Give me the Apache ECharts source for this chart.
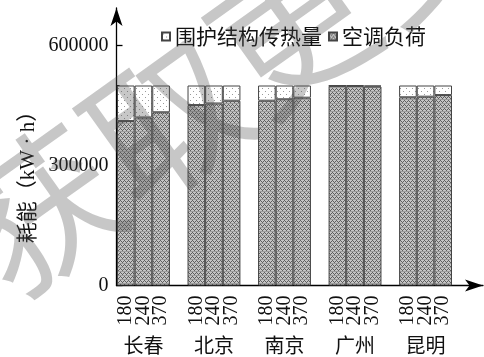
<!DOCTYPE html>
<html>
<head>
<meta charset="utf-8">
<script src="https://cdn.jsdelivr.net/npm/echarts@6/dist/echarts.min.js"></script>
<style>
html,body{margin:0;padding:0;background:#fff;}
#chart{width:484px;height:357px;}
</style>
</head>
<body>
<div id="chart"></div>
<script>
// Cities and wall thicknesses (mm)
const cities = ['长春', '北京', '南京', '广州', '昆明'];
const thicknesses = ['180', '240', '370'];
const seriesNames = ['围护结构传热量', '空调负荷'];
const yTickValues = [0, 300000, 600000];
const yMinorTickValues = [100000, 200000, 400000, 500000];

// 空调负荷 (kW·h), one row per city, columns 180 / 240 / 370
const coolingLoad = [
  [411000, 420000, 433000],
  [451000, 455000, 462000],
  [462000, 465500, 469500],
  [499000, 499000, 497500],
  [470500, 472000, 476000]
];
// 围护结构传热量 (kW·h), stacked on top
const envelopeHeat = [
  [89000, 80000, 67000],
  [49000, 45000, 38000],
  [38000, 34500, 30500],
  [1000, 1000, 2500],
  [29500, 28000, 24000]
];

const Y_TOP = 693750;   // axis extends past 600000 up to the arrow

// Lay out bars in slots: three bars per city, one empty slot between cities
const slotKeys = [], barLabels = [], cityLabels = [];
const loadSlots = [], heatSlots = [];
cities.forEach((city, i) => {
  thicknesses.forEach((t, j) => {
    slotKeys.push('s' + slotKeys.length);
    barLabels.push(t);
    cityLabels.push(j === 1 ? city : '');
    loadSlots.push(coolingLoad[i][j]);
    heatSlots.push(envelopeHeat[i][j]);
  });
  if (i < cities.length - 1) {
    slotKeys.push('s' + slotKeys.length);
    barLabels.push('');
    cityLabels.push('');
    loadSlots.push('-');
    heatSlots.push('-');
  }
});

// Fill patterns
function makeDots() {
  const c = document.createElement('canvas');
  c.width = 6; c.height = 6;
  const g = c.getContext('2d');
  g.fillStyle = '#ffffff'; g.fillRect(0, 0, 6, 6);
  g.fillStyle = '#9a9a9a';
  g.fillRect(1, 1, 1, 1);
  g.fillRect(4, 4, 1, 1);
  return c;
}
function makeZigzag() {
  const c = document.createElement('canvas');
  c.width = 4; c.height = 4;
  const g = c.getContext('2d');
  g.fillStyle = '#c6c6c6'; g.fillRect(0, 0, 4, 4);
  g.fillStyle = '#5e5e5e';
  g.fillRect(0, 0, 1, 1);
  g.fillRect(1, 1, 1, 1);
  g.fillRect(3, 1, 1, 1);
  g.fillRect(2, 2, 1, 1);
  g.fillStyle = '#9c9c9c';
  g.fillRect(0, 3, 4, 1);
  return c;
}
const dotFill = { image: makeDots(), repeat: 'repeat' };
const zigFill = { image: makeZigzag(), repeat: 'repeat' };

const serif = "'Liberation Serif', 'Noto Sans CJK SC'";
const cjk = "'Noto Sans CJK SC'";

const chart = echarts.init(document.getElementById('chart'), null, { renderer: 'canvas' });
chart.setOption({
  animation: false,
  backgroundColor: '#ffffff',
  legend: {
    data: seriesNames,
    left: 161,
    top: 26,
    padding: 0,
    itemWidth: 8,
    itemHeight: 8,
    itemGap: 6,
    icon: 'rect',
    textStyle: { fontFamily: cjk, fontSize: 21, color: '#111' }
  },
  grid: [
    { left: 117, width: 335, top: 8, height: 277.5 },
    { left: 116.5, right: 1, top: 8, height: 277.5 },
    { left: 116.5, right: 1, top: 92, height: 160 }
  ],
  xAxis: [
    {
      type: 'category', gridIndex: 0, data: slotKeys,
      axisLine: { show: false }, axisTick: { show: false },
      axisLabel: {
        interval: 0, rotate: 90, margin: 10,
        fontFamily: serif, fontSize: 20, color: '#111',
        formatter: (v, idx) => barLabels[idx]
      }
    },
    {
      type: 'category', gridIndex: 0, data: slotKeys, position: 'bottom', offset: 42,
      axisLine: { show: false }, axisTick: { show: false },
      axisLabel: {
        interval: 0, margin: 8,
        fontFamily: cjk, fontSize: 20, color: '#111',
        formatter: (v, idx) => cityLabels[idx]
      }
    },
    {
      type: 'value', gridIndex: 1, min: 0, max: 1,
      axisLine: { show: true, lineStyle: { color: '#000', width: 1.3 }, symbol: ['none', 'arrow'], symbolSize: [9, 18] },
      axisTick: { show: false }, axisLabel: { show: false }, splitLine: { show: false }
    },
    {
      type: 'value', gridIndex: 2, min: 0, max: 1, show: false
    }
  ],
  yAxis: [
    { type: 'value', gridIndex: 0, min: 0, max: Y_TOP, show: false },
    {
      type: 'value', gridIndex: 1, min: 0, max: Y_TOP, position: 'left',
      axisLine: { show: true, lineStyle: { color: '#000', width: 1.3 }, symbol: ['none', 'arrow'], symbolSize: [9, 18] },
      axisTick: { show: true, inside: true, length: 6, lineStyle: { color: '#000', width: 1.3 }, customValues: yTickValues },
      axisLabel: {
        fontFamily: serif, fontSize: 20, color: '#111', margin: 8, customValues: yTickValues,
        formatter: v => String(v)
      },
      splitLine: { show: false }
    },
    {
      type: 'value', gridIndex: 1, min: 0, max: Y_TOP, position: 'left',
      axisLine: { show: false },
      axisTick: { show: true, inside: true, length: 3, lineStyle: { color: '#000', width: 1 }, customValues: yMinorTickValues },
      axisLabel: { show: false }, splitLine: { show: false }
    },
    {
      type: 'value', gridIndex: 2, min: 0, max: 1, position: 'left',
      axisLine: { show: false }, axisTick: { show: false }, axisLabel: { show: false }, splitLine: { show: false },
      name: '耗能（kW · h）', nameLocation: 'middle', nameRotate: 90, nameGap: 78,
      nameTextStyle: { fontFamily: serif, fontSize: 21, color: '#111' }
    }
  ],
  series: [
    {
      name: seriesNames[1], type: 'bar', stack: 'energy', xAxisIndex: 0, yAxisIndex: 0,
      data: loadSlots, barWidth: '100%', barCategoryGap: 0,
      itemStyle: { color: zigFill, borderColor: '#444', borderWidth: 1 }
    },
    {
      name: seriesNames[0], type: 'bar', stack: 'energy', xAxisIndex: 0, yAxisIndex: 0,
      data: heatSlots, barWidth: '100%', barCategoryGap: 0,
      itemStyle: { color: dotFill, borderColor: '#444', borderWidth: 1 }
    }
  ],
  graphic: [
    {
      type: 'text', x: 22, y: 318, rotation: 0.62, z: 100, silent: true,
      style: {
        text: '获取更多', fill: 'rgba(80,80,80,0.32)',
        font: "155px 'Noto Sans CJK SC'", textVerticalAlign: 'bottom'
      }
    }
  ]
});
</script>
</body>
</html>
